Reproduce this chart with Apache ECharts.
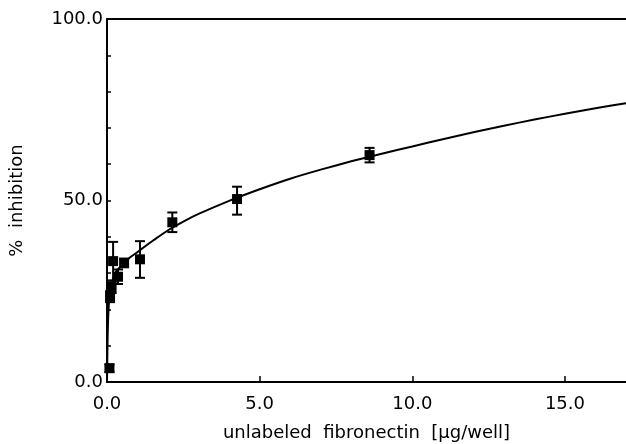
<!DOCTYPE html>
<html>
<head>
<meta charset="utf-8">
<script src="https://cdn.jsdelivr.net/npm/echarts@6/dist/echarts.min.js"></script>
<style>html,body{margin:0;padding:0;background:#fff}#c{width:626px;height:444px}</style>
</head>
<body>
<div id="c"></div>
<script>
// measured points
var pointX = [0.08, 0.10, 0.15, 0.20, 0.36, 0.56, 1.08, 2.14, 4.26, 8.60];
var pointY = [3.8, 23.5, 26.0, 33.3, 29.0, 32.8, 33.8, 44.0, 50.4, 62.5];
var errLow = [2.8, 22.0, 24.5, 28.0, 27.0, 31.6, 28.7, 41.3, 46.1, 60.5];
var errHigh = [4.8, 25.0, 27.5, 38.6, 31.0, 34.0, 38.8, 46.7, 53.8, 64.5];
// fitted curve
var curveX = [0, 0.02, 0.05, 0.1, 0.2, 0.3, 0.56, 0.75, 1.0, 1.25, 1.5, 2, 2.5, 3, 4, 5, 6, 7, 8, 9, 10, 11, 12, 13, 14, 15, 16, 17];
var curveY = [0, 12, 20, 25, 28.5, 30.5, 32.8, 34.3, 35.8, 37.4, 38.9, 41.8, 44.2, 46.3, 49.9, 53.1, 56, 58.5, 60.8, 62.9, 64.9, 66.9, 68.8, 70.6, 72.3, 73.9, 75.4, 76.8];
var xTicks = ['0.0', '5.0', '10.0', '15.0'];
var yTicks = ['0.0', '50.0', '100.0'];

var font = 'DejaVu Sans';
var chart = echarts.init(document.getElementById('c'));
chart.setOption({
  animation: false,
  backgroundColor: '#fff',
  grid: {left: 107, top: 19, right: 0, bottom: 62, containLabel: false, outerBoundsMode: 'none'},
  xAxis: [{
    type: 'value', min: 0, max: 17, interval: 5,
    name: 'unlabeled  fibronectin  [μg/well]', nameLocation: 'middle', nameGap: 42,
    nameTextStyle: {color: '#000', fontFamily: font, fontSize: 18},
    axisLine: {onZero: false, lineStyle: {color: '#000', width: 2}},
    axisTick: {inside: true, length: 6, lineStyle: {color: '#000', width: 1.5}},
    axisLabel: {color: '#000', fontFamily: font, fontSize: 18, margin: 13, showMaxLabel: false,
      formatter: function (v) { return (Math.abs(v % 5) < 1e-9) ? (xTicks[Math.round(v / 5)] || '') : ''; }},
    splitLine: {show: false}
  }, {
    type: 'value', min: 0, max: 17, position: 'top',
    axisLine: {show: true, onZero: false, lineStyle: {color: '#000', width: 2}},
    axisTick: {show: false}, axisLabel: {show: false}, splitLine: {show: false}
  }],
  yAxis: {
    type: 'value', min: 0, max: 100, interval: 10,
    name: '%  inhibition', nameLocation: 'middle', nameGap: 81, nameRotate: 90,
    nameTextStyle: {color: '#000', fontFamily: font, fontSize: 18},
    axisLine: {onZero: false, lineStyle: {color: '#000', width: 2}},
    axisTick: {inside: true, length: 4, lineStyle: {color: '#000', width: 1.5}},
    axisLabel: {color: '#000', fontFamily: font, fontSize: 18, margin: 4,
      formatter: function (v) { return v % 50 === 0 ? yTicks[v / 50] : ''; }},
    splitLine: {show: false}
  },
  series: [{
    type: 'line', data: curveX.map(function (x, i) { return [x, curveY[i]]; }),
    smooth: 0.2, showSymbol: false, symbol: 'none',
    lineStyle: {color: '#000', width: 2}, z: 2
  }, {
    type: 'custom',
    data: pointX.map(function (x, i) { return [x, errLow[i], errHigh[i]]; }),
    renderItem: function (params, api) {
      var lo = api.coord([api.value(0), api.value(1)]);
      var hi = api.coord([api.value(0), api.value(2)]);
      var w = 5;
      var st = {stroke: '#000', lineWidth: 2};
      return {type: 'group', children: [
        {type: 'line', shape: {x1: lo[0], y1: lo[1], x2: hi[0], y2: hi[1]}, style: st},
        {type: 'line', shape: {x1: lo[0] - w, y1: lo[1], x2: lo[0] + w, y2: lo[1]}, style: st},
        {type: 'line', shape: {x1: hi[0] - w, y1: hi[1], x2: hi[0] + w, y2: hi[1]}, style: st}
      ]};
    },
    z: 3
  }, {
    type: 'scatter', data: pointX.map(function (x, i) { return [x, pointY[i]]; }),
    symbol: 'rect', symbolSize: 10, itemStyle: {color: '#000', opacity: 1}, z: 4
  }]
});
</script>
</body>
</html>
